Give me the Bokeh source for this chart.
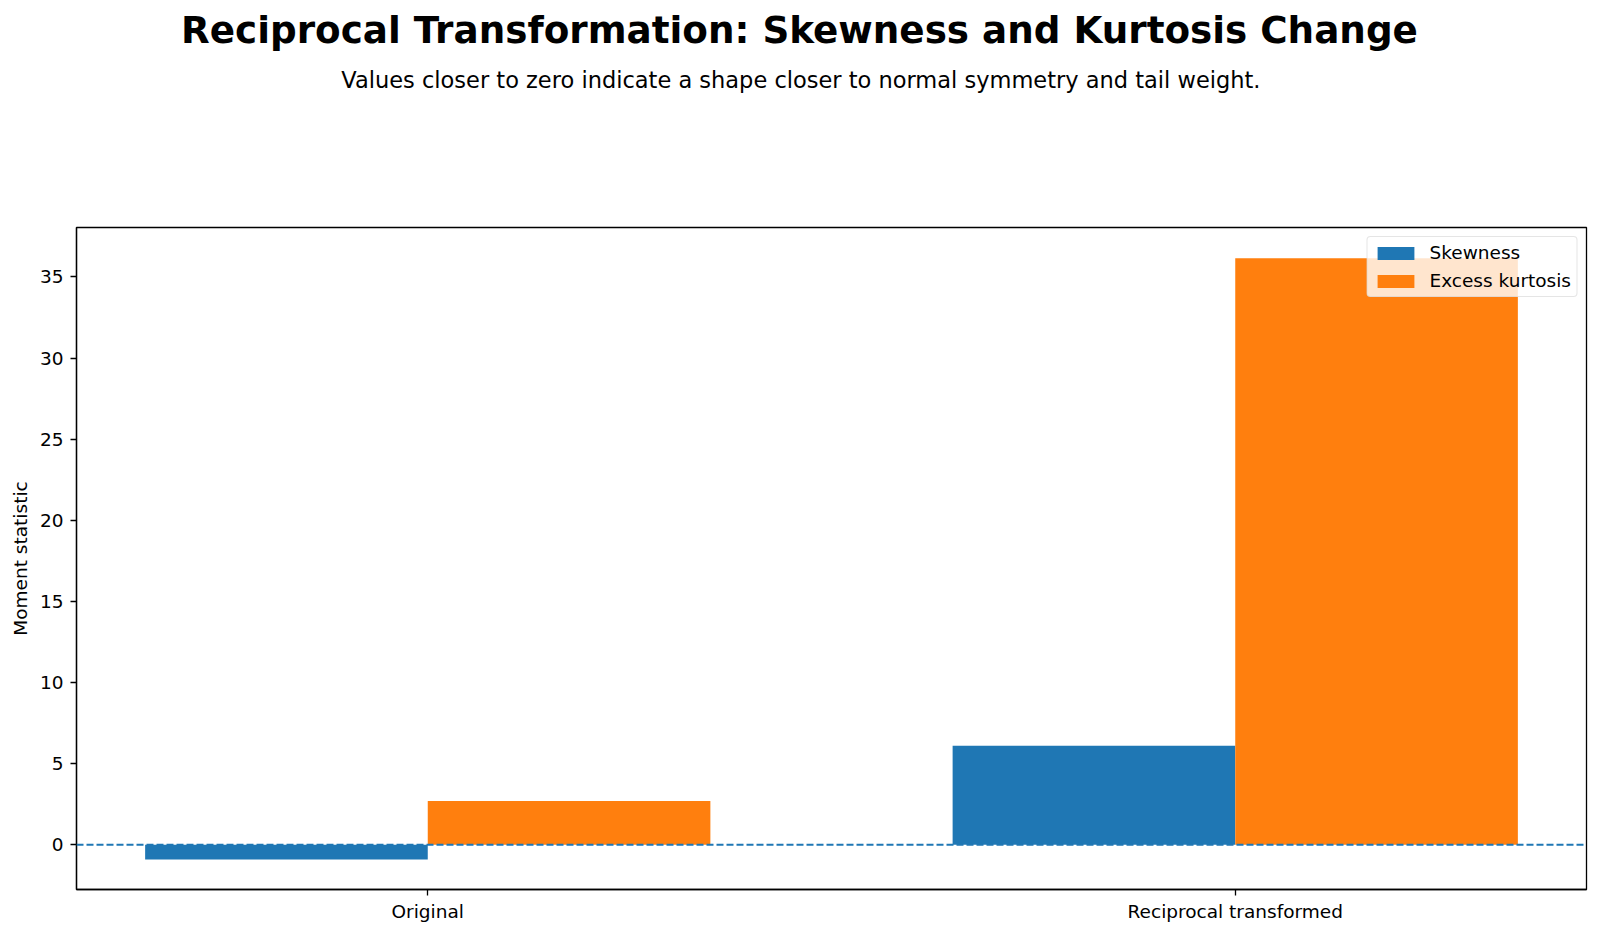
from bokeh.plotting import figure
from bokeh.models import (Range1d, FixedTicker, Span, Title, Legend, LegendItem,
                          ColumnDataSource)
from bokeh.embed import file_html
from bokeh.resources import INLINE

# ---- data ----
categories = ["Original", "Reciprocal transformed"]
series_names = ["Skewness", "Excess kurtosis"]
skewness = [-0.9, 6.1]
kurtosis = [2.7, 36.15]
yticks = [0, 5, 10, 15, 20, 25, 30, 35]
colors = ["#1f77b4", "#ff7f0e"]

title_text = "Reciprocal Transformation: Skewness and Kurtosis Change"
subtitle_text = "Values closer to zero indicate a shape closer to normal symmetry and tail weight."
ylabel = "Moment statistic"

FONT = "DejaVu Sans"
bar_w = 0.35
idx = list(range(len(categories)))

p = figure(width=1600, height=933, output_backend="svg", toolbar_location=None,
           x_range=Range1d(-0.435, 1.435), y_range=Range1d(-2.755, 38.05),
           min_border_left=76, min_border_right=14, min_border_top=227,
           min_border_bottom=44, title=None)
p.background_fill_color = "white"
p.border_fill_color = "white"

src_s = ColumnDataSource(dict(x=[i - bar_w / 2 for i in idx], top=skewness))
src_k = ColumnDataSource(dict(x=[i + bar_w / 2 for i in idx], top=kurtosis))
r1 = p.vbar(x="x", top="top", bottom=0, width=bar_w, source=src_s,
            fill_color=colors[0], line_color=None)
r2 = p.vbar(x="x", top="top", bottom=0, width=bar_w, source=src_k,
            fill_color=colors[1], line_color=None)

p.add_layout(Span(location=0, dimension="width", line_color=colors[0],
                  line_dash="7 3", line_width=2))

p.xgrid.visible = False
p.ygrid.visible = False

p.xaxis.ticker = FixedTicker(ticks=idx)
p.xaxis.major_label_overrides = {i: c for i, c in enumerate(categories)}
p.yaxis.ticker = FixedTicker(ticks=yticks)
p.yaxis.axis_label = ylabel

for ax in (p.xaxis[0], p.yaxis[0]):
    ax.axis_line_color = "black"
    ax.axis_line_width = 1.3
    ax.major_tick_in = 0
    ax.major_tick_out = 6
    ax.major_tick_line_width = 1.3
    ax.major_tick_line_color = "black"
    ax.minor_tick_in = 0
    ax.minor_tick_out = 0
    ax.major_label_text_font = FONT
    ax.major_label_text_font_size = "18.5px"
    ax.major_label_text_color = "black"
    ax.axis_label_text_font = FONT
    ax.axis_label_text_font_size = "18.5px"
    ax.axis_label_text_font_style = "normal"
    ax.axis_label_text_color = "black"

p.xaxis.major_label_standoff = 5
p.yaxis.major_label_standoff = 7
p.yaxis.axis_label_standoff = 6

p.outline_line_color = "black"
p.outline_line_width = 1.3
p.outline_line_alpha = 1.0

legend = Legend(items=[LegendItem(label=series_names[0], renderers=[r1]),
                       LegendItem(label=series_names[1], renderers=[r2])],
                location="top_right")
legend.label_text_font = FONT
legend.label_text_font_size = "18.5px"
legend.label_text_color = "black"
legend.glyph_width = 46
legend.glyph_height = 16
legend.label_height = 20
legend.label_standoff = 11
legend.spacing = 7
legend.padding = 5
legend.margin = 9
legend.background_fill_alpha = 0.8
legend.border_line_color = "#cccccc"
legend.border_line_width = 1.3
try:
    legend.border_radius = 4
except Exception:
    pass
p.add_layout(legend)

# Stack above the frame (closest first): spacer, subtitle, title
spacer = Title(text=" ", text_font_size="1px", standoff=118)
sub = Title(text=subtitle_text, align="left", offset=264.8, text_font=FONT,
            text_font_size="22.5px", text_font_style="normal", text_color="black",
            standoff=26.6)
main = Title(text=title_text, align="left", offset=104.6, text_font=FONT,
             text_font_size="37.3px", text_font_style="bold", text_color="black",
             standoff=0)
p.add_layout(spacer, "above")
p.add_layout(sub, "above")
p.add_layout(main, "above")

open("out.html", "w").write(file_html(p, INLINE))
